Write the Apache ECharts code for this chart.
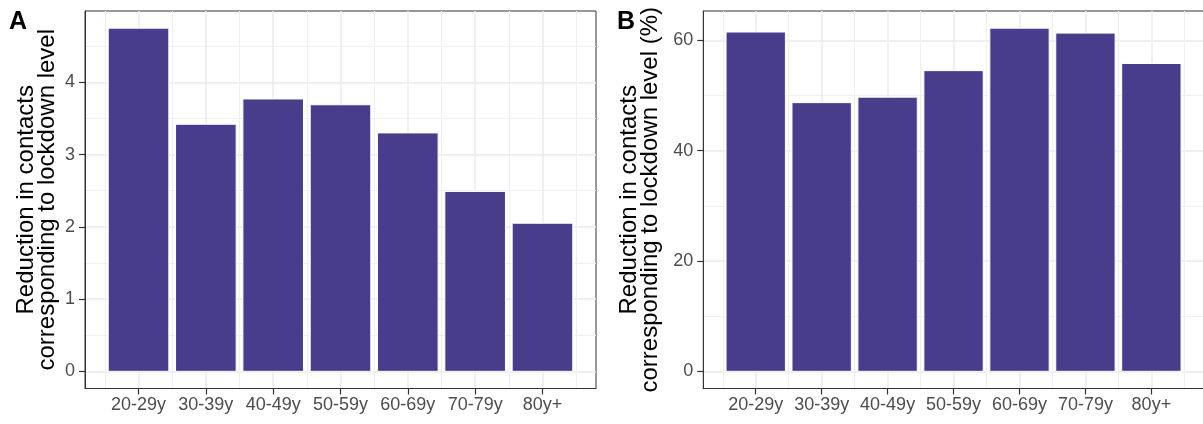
<!doctype html>
<html lang="en">
<head>
<meta charset="UTF-8">
<title>Reduction in contacts by age group</title>
<style>
html, body { margin: 0; padding: 0; background: #fff; }
#main { width: 1203px; height: 424px; }
</style>
</head>
<body>
<div id="main"></div>
<script src="https://cdn.jsdelivr.net/npm/echarts@6.0.0/dist/echarts.min.js"></script>
<script>
// data
var ageGroups = ['20-29y', '30-39y', '40-49y', '50-59y', '60-69y', '70-79y', '80y+'];
var reductionAbs = [4.75, 3.42, 3.77, 3.69, 3.30, 2.49, 2.05];
var reductionPct = [61.5, 48.7, 49.7, 54.5, 62.2, 61.3, 55.8];
var yTicksAbs = [0, 1, 2, 3, 4];
var yMinorAbs = [0.5, 1.5, 2.5, 3.5, 4.5];
var yTicksPct = [0, 20, 40, 60];
var yMinorPct = [10, 30, 50];

var FONT = '"Liberation Sans", Arial, sans-serif';
var BAR_W = 0.9;

var xPos = ageGroups.map(function (g, i) { return i + 1; });
var xMinor = [0.5].concat(xPos.map(function (p) { return p + 0.5; }));

// ggplot-like limits: 5% expansion on the data range
var xLo = 1 - BAR_W / 2, xHi = ageGroups.length + BAR_W / 2;
var xPad = 0.05 * (xHi - xLo);
function yLimits(vals) {
    var mx = Math.max.apply(null, vals);
    return [-0.05 * mx, 1.05 * mx];
}

function renderBar(params, api) {
    var x = api.value(0), v = api.value(1);
    var p0 = api.coord([x - BAR_W / 2, v]);
    var p1 = api.coord([x + BAR_W / 2, 0]);
    return {
        type: 'rect',
        shape: { x: p0[0], y: p0[1], width: p1[0] - p0[0], height: p1[1] - p0[1] },
        style: { fill: '#483D8B', stroke: '#ffffff', lineWidth: 1 }
    };
}

var grids = [], xAxes = [], yAxes = [], series = [];
var tickStyle = { color: '#333333', width: 1.2 };

function addPanel(gi, grid, values, majors, minors, title, nameGap) {
    grids.push(grid);
    var yl = yLimits(values);
    // major x axis with category labels
    xAxes.push({
        type: 'value', gridIndex: gi, min: xLo - xPad, max: xHi + xPad,
        axisLine: { show: true, onZero: false, lineStyle: { color: '#333333', width: 1 } },
        axisTick: { show: true, inside: false, customValues: xPos, length: 6, lineStyle: tickStyle },
        axisLabel: {
            customValues: xPos, margin: 8, color: '#4D4D4D', fontSize: 18, fontFamily: FONT,
            formatter: function (v) { return ageGroups[Math.round(v) - 1]; }
        },
        splitLine: { show: true, lineStyle: { color: '#EBEBEB', width: 1.5 } }
    });
    // minor x grid lines
    xAxes.push({
        type: 'value', gridIndex: gi, position: 'top', min: xLo - xPad, max: xHi + xPad,
        axisLine: { show: false },
        axisTick: { show: false, customValues: xMinor },
        axisLabel: { show: false },
        splitLine: { show: true, lineStyle: { color: '#EFEFEF', width: 1 } }
    });
    yAxes.push({
        type: 'value', gridIndex: gi, min: yl[0], max: yl[1],
        name: title, nameLocation: 'middle', nameRotate: 90, nameGap: nameGap,
        nameTextStyle: { color: '#000', fontSize: 24, fontFamily: FONT, lineHeight: 21 },
        axisLine: { show: true, onZero: false, lineStyle: { color: '#333333', width: 1 } },
        axisTick: { show: true, inside: false, customValues: majors, length: 6, lineStyle: tickStyle },
        axisLabel: { customValues: majors, margin: 10, color: '#4D4D4D', fontSize: 18, fontFamily: FONT },
        splitLine: { show: true, lineStyle: { color: '#EBEBEB', width: 1.5 } }
    });
    yAxes.push({
        type: 'value', gridIndex: gi, position: 'right', min: yl[0], max: yl[1],
        axisLine: { show: false },
        axisTick: { show: false, customValues: minors },
        axisLabel: { show: false },
        splitLine: { show: true, lineStyle: { color: '#EFEFEF', width: 1 } }
    });
    series.push({
        type: 'custom',
        xAxisIndex: gi * 2, yAxisIndex: gi * 2,
        renderItem: renderBar,
        data: values.map(function (v, i) { return [xPos[i], v]; }),
        z: 5
    });
}

addPanel(0, { left: 85, top: 11, width: 511, height: 377.5, show: true, borderColor: '#333333', borderWidth: 1, backgroundColor: '#ffffff', outerBoundsMode: 'none' },
    reductionAbs, yTicksAbs, yMinorAbs, 'Reduction in contacts\ncorresponding to lockdown level', 27);
addPanel(1, { left: 703.3, top: 11, width: 500.5, height: 377.5, show: true, borderColor: '#333333', borderWidth: 1, backgroundColor: '#ffffff', outerBoundsMode: 'none' },
    reductionPct, yTicksPct, yMinorPct, 'Reduction in contacts\ncorresponding to lockdown level (%)', 42);

var chart = echarts.init(document.getElementById('main'), null, { renderer: 'canvas' });
chart.setOption({
    backgroundColor: '#ffffff',
    animation: false,
    grid: grids,
    xAxis: xAxes,
    yAxis: yAxes,
    series: series,
    graphic: [
        { type: 'text', left: 9, top: 10, style: { text: 'A', font: 'bold 25px ' + FONT, fill: '#000' } },
        { type: 'text', left: 617, top: 10, style: { text: 'B', font: 'bold 25px ' + FONT, fill: '#000' } }
    ]
});
</script>
</body>
</html>
